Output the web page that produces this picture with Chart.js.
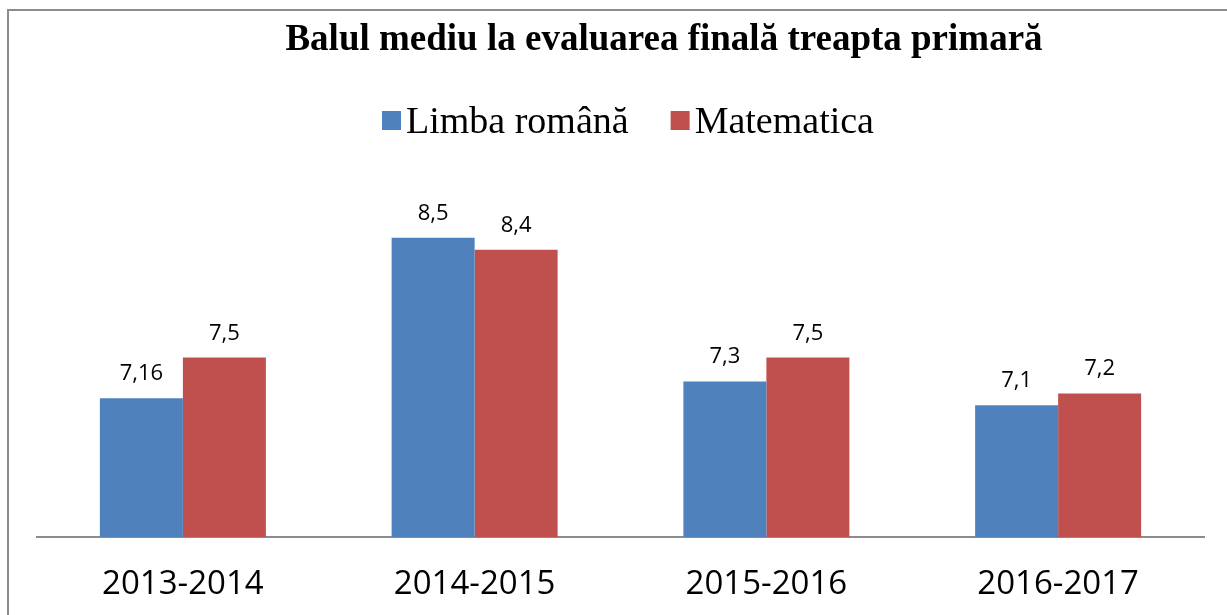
<!DOCTYPE html>
<html>
<head>
<meta charset="utf-8">
<script src="https://cdn.jsdelivr.net/npm/chart.js@4/dist/chart.umd.min.js"></script>
<style>
  html, body { margin: 0; padding: 0; background: #fff; }
  #wrap { position: relative; width: 1227px; height: 615px; }
</style>
</head>
<body>
<div id="wrap"><canvas id="chart" width="1227" height="615"></canvas></div>
<script>
const titleText  = 'Balul mediu la evaluarea finală treapta primară';
const years      = ['2013-2014', '2014-2015', '2015-2016', '2016-2017'];
const seriesName = ['Limba română', 'Matematica'];
const limbaRomana = [7.16, 8.5, 7.3, 7.1];
const matematica  = [7.5, 8.4, 7.5, 7.2];
const colors      = ['#4F81BD', '#C0504D'];

const SERIF = '"Liberation Serif", "Times New Roman", serif';
const SANS  = '"Open Sans", "Liberation Sans", sans-serif';

// ── outer frame, title, legend ──
const decor = {
  id: 'decor',
  beforeDraw(chart) {
    const ctx = chart.ctx;
    ctx.save();
    ctx.fillStyle = '#fff';
    ctx.fillRect(0, 0, chart.width, chart.height);
    ctx.strokeStyle = '#8c8c8c';
    ctx.lineWidth = 2;
    ctx.strokeRect(8, 10, 1400, 800);
    ctx.restore();
  },
  afterDraw(chart) {
    const ctx = chart.ctx;
    ctx.save();
    ctx.fillStyle = '#000';
    ctx.font = 'bold 37px ' + SERIF;
    ctx.textAlign = 'center';
    ctx.textBaseline = 'alphabetic';
    ctx.fillText(titleText, 664, 50);

    ctx.font = '38px ' + SERIF;
    ctx.textAlign = 'left';
    let x = 382;
    chart.data.datasets.forEach(ds => {
      ctx.fillStyle = ds.backgroundColor;
      ctx.fillRect(x, 111, 19, 19);
      ctx.fillStyle = '#000';
      ctx.fillText(ds.label, x + 24, 133);
      x += 24 + ctx.measureText(ds.label).width + 42;
    });
    ctx.restore();
  }
};

// ── value labels above the bars ──
const valueLabels = {
  id: 'valueLabels',
  afterDatasetsDraw(chart) {
    const ctx = chart.ctx;
    ctx.save();
    ctx.font = '22px ' + SANS;
    ctx.fillStyle = '#000';
    ctx.textAlign = 'center';
    ctx.textBaseline = 'alphabetic';
    chart.data.datasets.forEach((ds, i) => {
      chart.getDatasetMeta(i).data.forEach((bar, j) => {
        ctx.fillText(String(ds.data[j]).replace('.', ','), bar.x, bar.y - 18);
      });
    });
    ctx.restore();
  }
};

new Chart(document.getElementById('chart'), {
  type: 'bar',
  data: {
    labels: years,
    datasets: [
      { label: seriesName[0], data: limbaRomana, backgroundColor: colors[0] },
      { label: seriesName[1], data: matematica,  backgroundColor: colors[1] }
    ]
  },
  options: {
    responsive: false,
    animation: false,
    devicePixelRatio: 1,
    layout: { padding: { left: 37, right: 23, top: 178, bottom: 0 } },
    datasets: { bar: { categoryPercentage: 0.569, barPercentage: 1, borderWidth: 0 } },
    plugins: {
      legend: { display: false },
      title: { display: false },
      tooltip: { enabled: false }
    },
    scales: {
      x: {
        grid: { display: false, drawTicks: false },
        border: { display: true, color: '#8c8c8c', width: 2 },
        ticks: { color: '#000', font: { family: SANS, size: 33 }, padding: 28 },
        afterFit: s => { s.height = 78; }
      },
      y: {
        display: false,
        min: 6,
        max: 9
      }
    }
  },
  plugins: [decor, valueLabels]
});
</script>
</body>
</html>
